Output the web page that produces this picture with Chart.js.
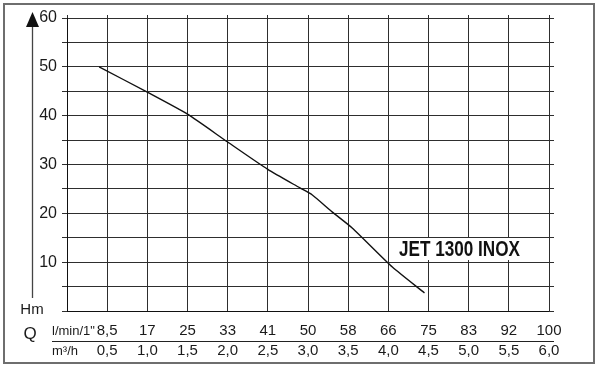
<!DOCTYPE html>
<html>
<head>
<meta charset="utf-8">
<script src="https://cdn.jsdelivr.net/npm/chart.js@4.4.1/dist/chart.umd.min.js"></script>
<style>
  html, body { margin:0; padding:0; background:#fff; }
  #wrap { width:600px; height:368px; }
</style>
</head>
<body>
<div id="wrap"><canvas id="pumpChart" width="600" height="368"></canvas></div>
<script>
// pump curve (Q in m3/h, head in m)
const flowM3h = [0.4, 1.0, 1.5, 2.0, 2.5, 2.9, 3.05, 3.3, 3.55, 4.05, 4.45];
const headM   = [50, 44.8, 40.3, 34.6, 29.0, 25.2, 23.8, 20.3, 17.0, 9.0, 3.7];

// tick labels
const lpmTicks = ['8,5','17','25','33','41','50','58','66','75','83','92','100'];
const m3hTicks = ['0,5','1,0','1,5','2,0','2,5','3,0','3,5','4,0','4,5','5,0','5,5','6,0'];
const headTicks = [10, 20, 30, 40, 50, 60];

const modelName = 'JET 1300 INOX';
const gridColor = '#2e2e2e';
const textColor = '#1a1a1a';
const font = '"Liberation Sans", Arial, sans-serif';

// extra drawing: frame, arrow, axis names, label box
const decorPlugin = {
    id: 'decor',
    beforeDraw(chart){
        const c = chart.ctx;
        c.save();
        c.fillStyle = '#fff';
        c.fillRect(0, 0, chart.width, chart.height);
        c.restore();
    },
    afterDraw(chart){
        const c = chart.ctx;
        const area = chart.chartArea;
        c.save();

        // outer frame
        c.strokeStyle = '#6e6e6e';
        c.lineWidth = 2;
        c.strokeRect(4, 4, 590, 359);

        // y arrow
        c.strokeStyle = '#444';
        c.lineWidth = 1.3;
        c.beginPath(); c.moveTo(32.5, 24); c.lineTo(32.5, 298); c.stroke();
        c.fillStyle = '#111';
        c.beginPath(); c.moveTo(32.5, 12); c.lineTo(39, 27); c.lineTo(26, 27); c.closePath(); c.fill();

        c.fillStyle = textColor;
        c.textBaseline = 'middle';
        c.textAlign = 'center';
        c.font = '15px ' + font;
        c.fillText('Hm', 32, 310);

        // Q / units on the left of the x labels
        c.font = '17px ' + font;
        c.fillText('Q', 30, 334);
        c.textAlign = 'left';
        c.font = '13px ' + font;
        c.fillText('l/min/1"', 52, 331);
        c.fillText('m³/h', 52, 351);

        // line between the two rows of x labels
        c.strokeStyle = '#222';
        c.lineWidth = 1;
        c.beginPath(); c.moveTo(52, 341.5); c.lineTo(area.right + 5, 341.5); c.stroke();

        // model name on a white box
        c.fillStyle = '#fff';
        c.fillRect(389, 238, 136, 22);
        c.fillStyle = '#111';
        c.textAlign = 'left';
        c.font = 'bold 22px "Liberation Sans Narrow", ' + font;
        c.fillText(modelName, 399, 249.5, 121);

        c.restore();
    }
};

const ctx = document.getElementById('pumpChart').getContext('2d');
new Chart(ctx, {
    type: 'line',
    data: {
        datasets: [{
            data: flowM3h.map((q, i) => ({ x: q, y: headM[i] })),
            borderColor: '#111',
            borderWidth: 1.4,
            pointRadius: 0,
            tension: 0.2,
            fill: false
        }]
    },
    options: {
        responsive: false,
        animation: false,
        devicePixelRatio: 1,
        layout: { padding: 0 },
        plugins: { legend: { display: false }, tooltip: { enabled: false } },
        scales: {
            x: {
                type: 'linear', position: 'bottom', min: 0, max: 6,
                afterFit: s => { s.height = 57; },
                grid: { color: gridColor, lineWidth: 1, drawTicks: false },
                border: { color: '#111', width: 1 },
                ticks: {
                    stepSize: 0.5, autoSkip: false, maxRotation: 0, padding: 10,
                    color: textColor,
                    font: { family: font, size: 15, lineHeight: '20px' },
                    callback: v => {
                        const i = Math.round(v / 0.5) - 1;
                        return i >= 0 ? [lpmTicks[i], m3hTicks[i]] : '';
                    }
                }
            },
            xTop: {
                type: 'linear', position: 'top', min: 0, max: 6,
                afterFit: s => { s.height = 18; },
                grid: { color: gridColor, drawOnChartArea: false, tickLength: 3 },
                border: { color: gridColor },
                ticks: { stepSize: 0.5, display: false }
            },
            y: {
                type: 'linear', position: 'left', min: 0, max: 60,
                afterFit: s => { s.width = 67; },
                grid: { color: gridColor, lineWidth: 1, tickLength: 5 },
                border: { color: '#111', width: 1 },
                ticks: {
                    stepSize: 5, padding: 5, color: textColor,
                    font: { family: font, size: 16 },
                    callback: v => headTicks.includes(v) ? String(v) : ''
                }
            },
            yRight: {
                type: 'linear', position: 'right', min: 0, max: 60,
                afterFit: s => { s.width = 51; },
                grid: { color: gridColor, drawOnChartArea: false, tickLength: 5 },
                border: { color: gridColor },
                ticks: { stepSize: 5, display: false }
            }
        }
    },
    plugins: [decorPlugin]
});
</script>
</body>
</html>
